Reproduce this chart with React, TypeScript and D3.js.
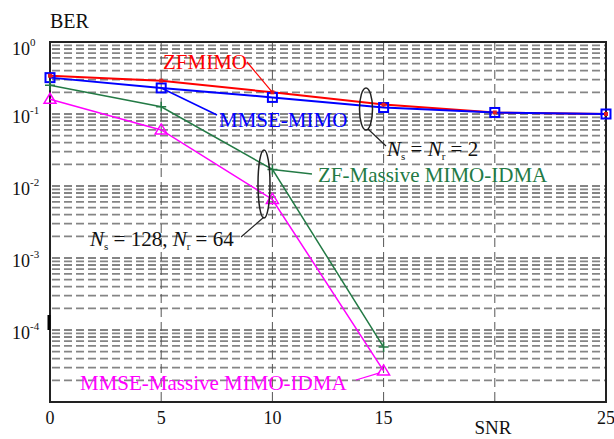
import * as d3 from "d3";

const snr = [0, 5, 10, 15, 20, 25];
const zfMimo = [0.34, 0.29, 0.2, 0.135, 0.105, 0.1];
const mmseMimo = [0.32, 0.23, 0.17, 0.123, 0.105, 0.1];
const snrMassive = [0, 5, 10, 15];
const zfMassive = [0.25, 0.126, 0.017, 5.8e-5];
const mmseMassive = [0.16, 0.06, 0.0065, 2.7e-5];
const xTicks = [0, 5, 10, 15, 20, 25];
const xTickLabels = ["0", "5", "10", "15", "", "25"];
const yDecades = [0, -1, -2, -3, -4];

const width = 614;
const height = 439;
const left = 50;
const right = 606;
const top = 42;
const bottom = 402;
const font = "'Liberation Serif', 'Times New Roman', serif";

export default function App() {
  const x = d3.scaleLinear().domain([0, 25]).range([left, right]);
  const y = d3.scaleLog().domain([1e-5, 1]).range([bottom, top]);

  // minor log lines 2..9 x 10^k plus the decades
  const hLines: number[] = [];
  for (let k = -5; k < 0; k++) {
    for (let m = 1; m <= 9; m++) {
      const v = m * Math.pow(10, k);
      if (v > 1e-5 && v < 1) hLines.push(v);
    }
  }

  const line = d3
    .line<[number, number]>()
    .x((d) => x(d[0]))
    .y((d) => y(d[1]));

  const pts = (xs: number[], ys: number[]) =>
    xs.map((v, i) => [v, ys[i]] as [number, number]);

  return (
    <svg
      width={width}
      height={height}
      style={{ position: "absolute", left: 0, top: 0, background: "#fff" }}
      fontFamily={font}
    >
      <rect width={width} height={height} fill="#fff" />

      {/* horizontal log grid */}
      {hLines.map((v, i) => (
        <line
          key={"h" + i}
          x1={left + 2}
          x2={right}
          y1={y(v)}
          y2={y(v)}
          stroke="#858585"
          strokeWidth={1.8}
          strokeDasharray="8,4"
        />
      ))}
      {/* vertical grid */}
      {xTicks.slice(1, -1).map((t) => (
        <line
          key={"v" + t}
          x1={x(t)}
          x2={x(t)}
          y1={top}
          y2={bottom}
          stroke="#555"
          strokeWidth={1}
          strokeDasharray="9,5"
        />
      ))}

      {/* frame */}
      <rect
        x={left}
        y={top}
        width={right - left}
        height={bottom - top}
        fill="none"
        stroke="#222"
        strokeWidth={2}
      />
      <line x1={left - 1} x2={left - 1} y1={315} y2={330} stroke="#000" strokeWidth={3} />

      {/* series */}
      <path d={line(pts(snr, zfMimo)) || ""} fill="none" stroke="#ff0000" strokeWidth={2} />
      <path d={line(pts(snr, mmseMimo)) || ""} fill="none" stroke="#0000ff" strokeWidth={2} />
      <path d={line(pts(snrMassive, zfMassive)) || ""} fill="none" stroke="#237a45" strokeWidth={1.5} />
      <path d={line(pts(snrMassive, mmseMassive)) || ""} fill="none" stroke="#ff00ff" strokeWidth={1.5} />

      {pts(snr, mmseMimo).map((d, i) => (
        <rect
          key={"b" + i}
          x={x(d[0]) - 4.5}
          y={y(d[1]) - 4.5}
          width={9}
          height={9}
          fill="none"
          stroke="#0000ff"
          strokeWidth={2}
        />
      ))}
      {pts(snr, zfMimo).map((d, i) => (
        <rect key={"r" + i} x={x(d[0]) - 2} y={y(d[1]) - 2} width={4} height={4} fill="#e02020" />
      ))}
      {pts(snrMassive, zfMassive).map((d, i) => (
        <path
          key={"g" + i}
          d={`M${x(d[0]) - 5},${y(d[1])}h10M${x(d[0])},${y(d[1]) - 5}v10`}
          stroke="#237a45"
          strokeWidth={1.5}
        />
      ))}
      {pts(snrMassive, mmseMassive).map((d, i) => (
        <path
          key={"m" + i}
          d={`M${x(d[0]) - 6},${y(d[1]) + 4}L${x(d[0])},${y(d[1]) - 6}L${x(d[0]) + 6},${y(d[1]) + 4}Z`}
          fill="none"
          stroke="#ff00ff"
          strokeWidth={1.5}
        />
      ))}

      {/* axis labels */}
      <text x={50} y={28} fontSize={20} fill="#111">BER</text>
      <text x={493} y={434} fontSize={19} fill="#111" textAnchor="middle">SNR</text>
      {xTicks.map((t, i) => (
        <text key={"xt" + t} x={x(t)} y={424} fontSize={18} textAnchor="middle" fill="#111">
          {xTickLabels[i]}
        </text>
      ))}
      {yDecades.map((k) => (
        <text key={"yt" + k} x={12} y={y(Math.pow(10, k)) + (k === 0 ? 13 : 9)} fontSize={18} fill="#111">
          10
          <tspan fontSize={11} dy={-9}>{k}</tspan>
        </text>
      ))}

      {/* annotations */}
      <text x={163} y={69} fontSize={21} fill="#ff0000">ZFMIMO</text>
      <line x1={247} y1={62} x2={x(10)} y2={y(zfMimo[2])} stroke="#ff0000" strokeWidth={1.2} />

      <text x={219} y={127} fontSize={21} fill="#0000ff">MMSE-MIMO</text>
      <line x1={217} y1={115} x2={x(5)} y2={y(mmseMimo[1])} stroke="#0000ff" strokeWidth={1.5} />

      <text x={318} y={182} fontSize={21} fill="#237a45">ZF-Massive MIMO-IDMA</text>
      <line x1={312} y1={174} x2={x(10)} y2={y(zfMassive[2])} stroke="#237a45" strokeWidth={1.5} />

      <text x={80} y={390} fontSize={21} fill="#ff00ff">MMSE-Massive MIMO-IDMA</text>
      <line x1={356} y1={380} x2={x(15) - 4} y2={y(mmseMassive[3]) + 2} stroke="#ff00ff" strokeWidth={1.2} />

      <ellipse cx={366} cy={109} rx={6.5} ry={21} fill="none" stroke="#222" strokeWidth={1.5} />
      <line x1={368} y1={129} x2={386} y2={146} stroke="#222" strokeWidth={1.2} />
      <text x={387} y={156} fontSize={21} fill="#111">
        <tspan fontStyle="italic">N</tspan>
        <tspan fontSize={11} dy={4}>s</tspan>
        <tspan dy={-4}> = </tspan>
        <tspan fontStyle="italic">N</tspan>
        <tspan fontSize={11} dy={4}>r</tspan>
        <tspan dy={-4}> = 2</tspan>
      </text>

      <ellipse cx={264} cy={184} rx={6} ry={34} fill="none" stroke="#222" strokeWidth={1.5} />
      <line x1={264} y1={217} x2={241} y2={237} stroke="#222" strokeWidth={1.2} />
      <text x={90} y={246} fontSize={21} fill="#111">
        <tspan fontStyle="italic">N</tspan>
        <tspan fontSize={11} dy={4}>s</tspan>
        <tspan dy={-4}> = 128, </tspan>
        <tspan fontStyle="italic">N</tspan>
        <tspan fontSize={11} dy={4}>r</tspan>
        <tspan dy={-4}> = 64</tspan>
      </text>
    </svg>
  );
}
